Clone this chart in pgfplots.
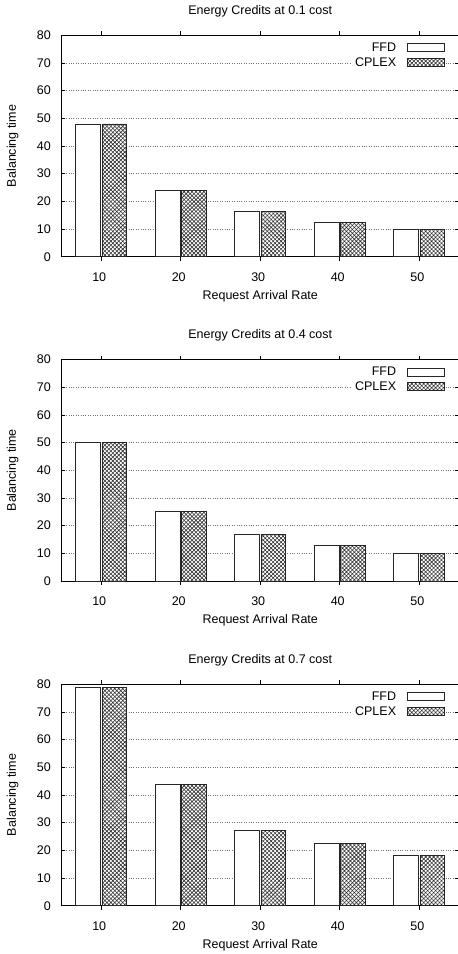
\documentclass[border=0pt]{standalone}
\usepackage{fontspec}
\setmainfont{Liberation Sans}
\usepackage{pgfplots}
\pgfplotsset{compat=1.18}
\usetikzlibrary{patterns.meta}

\pgfplotsset{
  gp/.style={
    scale only axis, width=397.5pt, height=221.4pt, anchor=south west,
    xmin=5, xmax=55, ymin=0, ymax=80,
    xtick={10,20,30,40,50}, ytick={0,10,...,80},
    ymajorgrids, grid style={dotted, black!55, line width=0.6pt},
    tick align=inside, major tick length=4pt,
    tick style={black, line width=0.6pt},
    axis line style={line width=0.8pt, black},
    ybar, bar width=3.1,
    font=\fontsize{12.5}{15}\selectfont,
    /pgf/number format/assume math mode=true,
    ticklabel style={font=\fontsize{12.5}{15}\selectfont},
    xticklabel style={anchor=center, yshift=-16pt, xshift=-2pt},
    yticklabel style={anchor=east, inner sep=0pt, xshift=-10.5pt},
    every axis title shift=0pt,
    title style={at={(axis description cs:0.5,1.11)}, anchor=center},
    xlabel style={at={(axis description cs:0.5,-0.1775)}, anchor=center},
    ylabel style={at={(axis description cs:-0.1228,0.5)}, anchor=center},
    xlabel={Request Arrival Rate}, ylabel={Balancing time},
    legend cell align=right, legend plot pos=right,
    legend style={at={(axis description cs:1,1)}, anchor=north east,
      xshift=-13pt, yshift=-4.2pt, draw=none, fill=white, inner sep=1pt,
      row sep=0.5pt, /tikz/every odd column/.append style={column sep=9pt}},
  },
  boxlegend/.style={legend image code/.code={\draw[##1] (0pt,-4pt) rectangle (37pt,4pt);}},
  ffd/.style={draw=black!85, fill=white, line width=0.7pt, bar shift=-1.65, boxlegend},
  cplex/.style={draw=black!85, fill=white, line width=0.7pt, bar shift=1.65,
    postaction={pattern={Hatch[angle=45,distance=2.8pt,line width=0.6pt]}, pattern color=black!80},
    boxlegend},
}

\begin{document}
\begin{tikzpicture}
% ---- plot 1
\begin{axis}[gp, at={(61.5pt,-256.7pt)}, title={Energy Credits at 0.1 cost}]
\addplot[ffd] coordinates {(10,48.0) (20,24.1) (30,16.4) (40,12.3) (50,10.0)};
\addplot[cplex] coordinates {(10,48.0) (20,24.1) (30,16.4) (40,12.3) (50,10.0)};
\legend{FFD,CPLEX}
\end{axis}
% ---- plot 2
\begin{axis}[gp, at={(61.5pt,-581pt)}, title={Energy Credits at 0.4 cost}]
\addplot[ffd] coordinates {(10,50.0) (20,25.2) (30,16.8) (40,12.8) (50,10.1)};
\addplot[cplex] coordinates {(10,50.0) (20,25.2) (30,16.8) (40,12.8) (50,10.1)};
\legend{FFD,CPLEX}
\end{axis}
% ---- plot 3
\begin{axis}[gp, at={(61.5pt,-905.7pt)}, title={Energy Credits at 0.7 cost}]
\addplot[ffd] coordinates {(10,79.0) (20,43.8) (30,27.1) (40,22.4) (50,18.3)};
\addplot[cplex] coordinates {(10,79.0) (20,43.8) (30,27.1) (40,22.4) (50,18.3)};
\legend{FFD,CPLEX}
\end{axis}
\pgfresetboundingbox
\path[use as bounding box] (0pt,0pt) rectangle (458pt,-954pt);
\end{tikzpicture}
\end{document}
